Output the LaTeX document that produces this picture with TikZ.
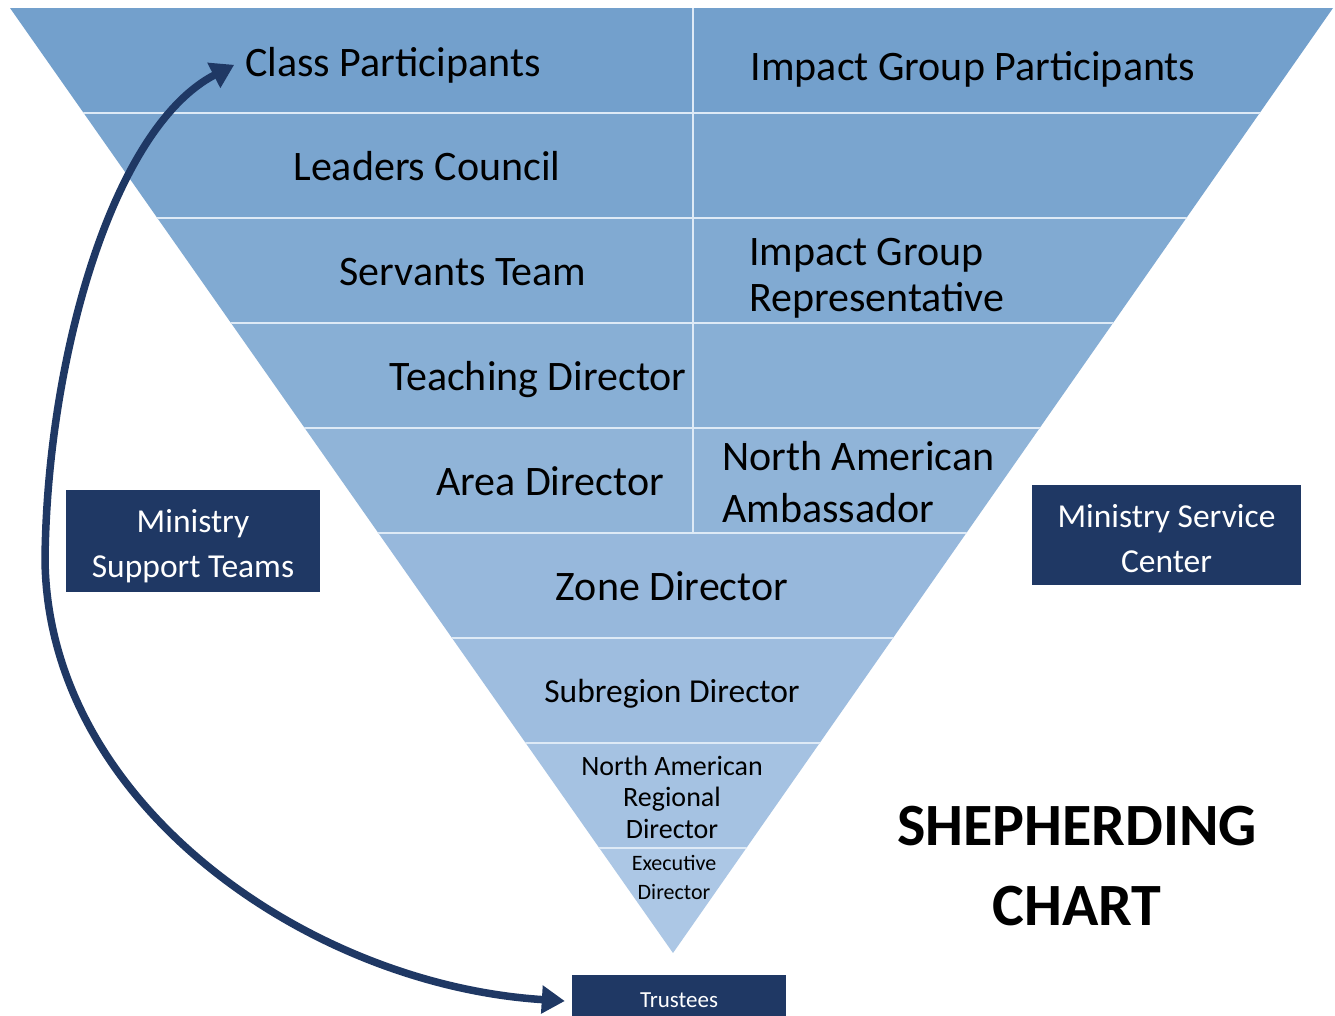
\documentclass[tikz,border=0pt]{standalone}
\usepackage{fontspec}
\setmainfont{Carlito}
\usetikzlibrary{arrows.meta}
\definecolor{navy}{RGB}{31,56,100}
\definecolor{bandtop}{RGB}{115,160,204}
\definecolor{bandbot}{RGB}{172,199,229}
\definecolor{rulecol}{RGB}{222,234,246}
\begin{document}
\begin{tikzpicture}[x=1pt,y=-1pt,
  lbl/.style={anchor=base, inner sep=0pt, text=black, font=\fontsize{42}{46}\selectfont},
  lblsub/.style={lbl, font=\fontsize{33.5}{40}\selectfont},
  lblsmall/.style={lbl, align=center, font=\fontsize{28}{31.5}\selectfont},
  lbltiny/.style={lbl, align=center, font=\fontsize{22}{29}\selectfont},
  navybox/.style={fill=navy, draw=none, inner sep=0pt},
  boxtext/.style={anchor=base, inner sep=0pt, text=white, align=center,
    font=\fontsize{33.5}{45}\selectfont},
  title/.style={anchor=base, inner sep=0pt, align=center, text=black,
    font=\fontsize{60}{80}\selectfont\bfseries},
  link/.style={navy, line width=7.5pt,
    {Triangle[length=23pt,width=27pt]}-{Triangle[length=23pt,width=27pt]}}
]
\clip (0,0) rectangle (1335,1015);
\fill[white] (0,0) rectangle (1335,1015);

% inverted pyramid made of horizontal bands
\begin{scope}
  \clip (10,8) -- (1333,8) -- (673,953) -- cycle;
  \foreach \k in {0,...,8} {
    \pgfmathsetmacro\mix{100-12.5*\k}
    \fill[bandtop!\mix!bandbot] (0,{8+105*\k}) rectangle (1335,{113+105*\k});
  }
  \foreach \k in {1,...,8}
    \draw[rulecol, line width=2pt] (0,{8+105*\k}) -- (1335,{8+105*\k});
  \draw[rulecol, line width=1.5pt] (693,8) -- (693,533);
\end{scope}

% level labels (multi-line labels sit on the baseline of their last line)
\node[lbl] (cp)   at (393,76)  {Class Participants};
\node[lbl] (igp)  at (973,80)  {Impact Group Participants};
\node[lbl] (lc)   at (427,180) {Leaders Council};
\node[lbl] (st)   at (463,285) {Servants Team};
\node[lbl, anchor=base west, align=left, font=\fontsize{42}{46}\selectfont]
  (igr) at (749,311) {Impact Group\\Representative};
\node[lbl] (td)   at (538,390) {Teaching Director};
\node[lbl] (ad)   at (550,495) {Area Director};
\node[lbl, anchor=base west, align=left, font=\fontsize{42}{52}\selectfont]
  (naa) at (722,522) {North American\\Ambassador};
\node[lbl] (zd)   at (672,600) {Zone Director};
\node[lblsub] (sd) at (672,702) {Subregion Director};
\node[lblsmall] (nard) at (672,838) {North American\\Regional\\Director};
\node[lbltiny] (ed) at (674,899) {Executive\\Director};

% side boxes
\node[navybox, minimum width=254pt, minimum height=102pt] (mst) at (193,541) {};
\node[boxtext] (msttext) at (193,577) {Ministry\\Support Teams};
\node[navybox, minimum width=269pt, minimum height=100pt] (msc) at (1166.5,535) {};
\node[boxtext] (msctext) at (1166.5,572) {Ministry Service\\Center};
\node[navybox, minimum width=214pt, minimum height=50pt] (tr) at (679,1000) {};
\node[boxtext, font=\fontsize{23}{28}\selectfont] (trtext) at (679,1007) {Trustees};

% title
\node[title] (ttl) at (1077,925) {SHEPHERDING\\CHART};

% curved double arrow between trustees and class participants
\draw[link] ([xshift=-7pt,yshift=-1pt]tr.west) .. controls (310,985) and (48,805) .. (45,560)
  .. controls (47,360) and (112,128) .. ([xshift=-11pt]cp.west);
\end{tikzpicture}
\end{document}
